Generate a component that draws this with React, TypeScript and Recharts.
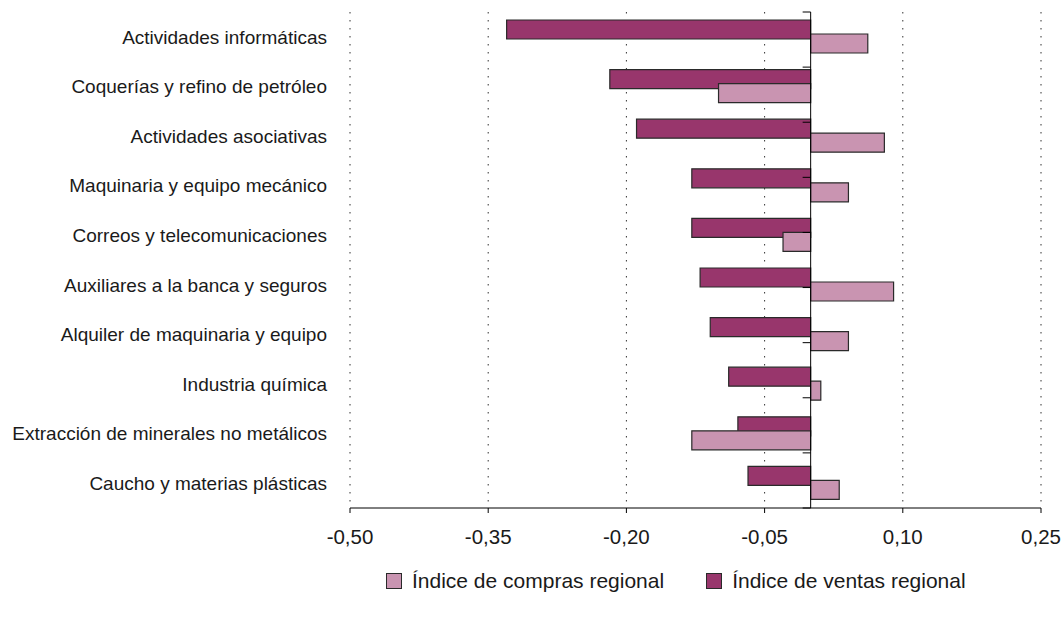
import { BarChart, Bar, XAxis, YAxis, CartesianGrid, ReferenceLine } from "recharts";

const categories = [
  "Actividades informáticas",
  "Coquerías y refino de petróleo",
  "Actividades asociativas",
  "Maquinaria y equipo mecánico",
  "Correos y telecomunicaciones",
  "Auxiliares a la banca y seguros",
  "Alquiler de maquinaria y equipo",
  "Industria química",
  "Extracción de minerales no metálicos",
  "Caucho y materias plásticas",
];

const compras = [0.062, -0.1, 0.08, 0.041, -0.03, 0.09, 0.041, 0.011, -0.129, 0.031];
const ventas = [-0.33, -0.218, -0.189, -0.129, -0.129, -0.12, -0.109, -0.089, -0.079, -0.068];

const xTicks = [-0.5, -0.35, -0.2, -0.05, 0.1, 0.25];
const seriesNames = ["Índice de compras regional", "Índice de ventas regional"];
const bandEdges = [0, 1, 2, 3, 4, 5, 6, 7, 8, 9, 10];

const COMPRAS_COLOR = "#c994b1";
const VENTAS_COLOR = "#98366c";
const FONT = "'Liberation Sans', Arial, sans-serif";

const data = categories.map((name, i) => ({
  name,
  compras: compras[i],
  ventas: ventas[i],
}));

const fmt = (v: number) => v.toFixed(2).replace(".", ",");

export default function App() {
  const legendItems = [
    { label: seriesNames[0], color: COMPRAS_COLOR },
    { label: seriesNames[1], color: VENTAS_COLOR },
  ];

  return (
    <div style={{ position: "absolute", left: 0, top: 0, width: 1062, height: 625, background: "#fff", fontFamily: FONT }}>
      <BarChart
        width={1062}
        height={625}
        data={data}
        layout="vertical"
        margin={{ top: 12, right: 21, left: 0, bottom: 77 }}
        barSize={19}
        barGap={-5}
      >
        <CartesianGrid horizontal={false} stroke="#333" strokeDasharray="1.5 6.5" />
        <XAxis
          type="number"
          domain={[-0.5, 0.25]}
          ticks={xTicks}
          tickFormatter={fmt}
          height={40}
          stroke="#000"
          tickSize={5}
          tickMargin={16}
          tick={{ fill: "#1a1a1a", fontSize: 20.5, fontFamily: FONT }}
          allowDataOverflow
        />
        <YAxis
          type="category"
          dataKey="name"
          width={350}
          axisLine={false}
          tickLine={false}
          tickSize={0}
          tickMargin={23}
          interval={0}
          tick={{ fill: "#1a1a1a", fontSize: 19, fontFamily: FONT }}
        />
        <YAxis yAxisId="n" type="number" domain={[0, 10]} hide />
        <Bar dataKey="ventas" name={seriesNames[1]} fill={VENTAS_COLOR} stroke="#2a2a2a" strokeWidth={1.2} isAnimationActive={false} />
        <Bar dataKey="compras" name={seriesNames[0]} fill={COMPRAS_COLOR} stroke="#2a2a2a" strokeWidth={1.2} isAnimationActive={false} />
        <ReferenceLine x={0} stroke="#000" strokeWidth={1} />
        {bandEdges.map((k) => (
          <ReferenceLine
            key={k}
            yAxisId="n"
            segment={[{ x: -0.0087, y: k }, { x: 0, y: k }]}
            stroke="#000"
            strokeWidth={1}
          />
        ))}
      </BarChart>
      <div
        style={{
          position: "absolute",
          top: 568,
          left: 386,
          display: "flex",
          gap: 42,
          fontSize: 21,
          lineHeight: "26px",
          color: "#1a1a1a",
          alignItems: "center",
        }}
      >
        {legendItems.map((it) => (
          <div key={it.label} style={{ display: "flex", alignItems: "center", gap: 10 }}>
            <span style={{ width: 14, height: 14, background: it.color, border: "1px solid #2a2a2a", display: "inline-block" }} />
            <span>{it.label}</span>
          </div>
        ))}
      </div>
    </div>
  );
}
